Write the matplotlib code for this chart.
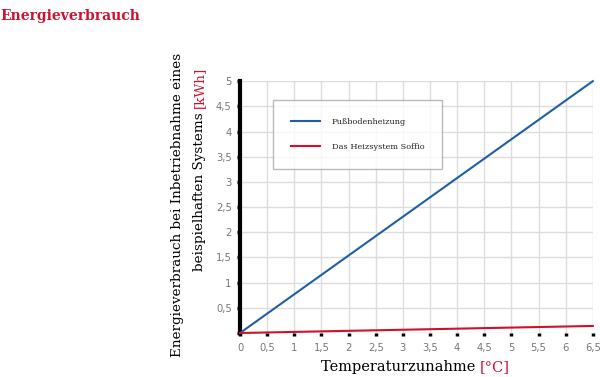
import numpy as np
import matplotlib.pyplot as plt

# *
# data
# *
temperature = [0, 6.5]
fussboden   = [0, 5.0]
soffio      = [0, 0.14]

x_ticks = np.arange(0, 6.51, 0.5)
y_ticks = np.arange(0, 5.01, 0.5)
x_labels = ["0", "0,5", "1", "1,5", "2", "2,5", "3", "3,5", "4", "4,5", "5", "5,5", "6", "6,5"]
y_labels = ["", "0,5", "1", "1,5", "2", "2,5", "3", "3,5", "4", "4,5", "5"]

red  = "#d0112b"
blue = "#1f5fa6"
serif = "DejaVu Serif"

# *
# plot
# *
fig = plt.figure(figsize=(6, 3.77), dpi=100)
ax = fig.add_axes([0.4, 0.1167, 0.588, 0.668])

ax.plot(temperature, fussboden, color=blue, lw=1.5, label="Fußbodenheizung", clip_on=False, zorder=3)
ax.plot(temperature, soffio, color=red, lw=1.5, label="Das Heizsystem Soffio", clip_on=False, zorder=3)

ax.set_xlim(0, 6.5)
ax.set_ylim(0, 5)
ax.set_xticks(x_ticks)
ax.set_xticklabels(x_labels)
ax.set_yticks(y_ticks)
ax.set_yticklabels(y_labels)
ax.grid(True, color="#dddddd", lw=1)
ax.set_axisbelow(True)

for s in ["top", "right", "bottom"]:
    ax.spines[s].set_visible(False)
ax.spines["left"].set_linewidth(3)
ax.spines["left"].set_color("black")

ax.tick_params(axis="both", colors="black", labelcolor="#777777", labelsize=7.2,
               direction="out", length=2, width=2.5)
ax.tick_params(axis="x", pad=5)
ax.tick_params(axis="y", pad=4)

leg = ax.legend(loc="upper left", bbox_to_anchor=(0.093, 0.926), frameon=True,
                fancybox=False, edgecolor="#aaaaaa", prop={"family": serif, "size": 5.9},
                handlelength=3.5, handletextpad=1.5, labelspacing=2.1,
                borderpad=2.2, borderaxespad=0)
leg.get_frame().set_linewidth(1)
for t in leg.get_texts():
    t.set_color("#222222")

# title
fig.text(0.0, 0.975, "Energieverbrauch", color=red, fontsize=10, fontweight="bold",
         family=serif, va="top", ha="left")

# y label (two lines, part red)
fig.text(178 / 600, 1 - 205 / 377, "Energieverbrauch bei Inbetriebnahme eines",
         rotation=90, family=serif, fontsize=9.7, ha="center", va="center")
anchor_y = 1 - 108 / 377
fig.text(199 / 600, anchor_y, "beispielhaften Systems ", rotation=90, rotation_mode="anchor",
         family=serif, fontsize=9.7, ha="right", va="center")
fig.text(199 / 600, anchor_y, "[kWh]", rotation=90, rotation_mode="anchor",
         family=serif, fontsize=9.7, ha="left", va="center", color=red)

# x label, part red
fig.text(480 / 600, 1 - 367 / 377, "Temperaturzunahme ", family=serif, fontsize=10.5,
         ha="right", va="center")
fig.text(480 / 600, 1 - 367 / 377, "[°C]", family=serif, fontsize=10.5,
         ha="left", va="center", color=red)

plt.savefig("out.png", dpi=100)
